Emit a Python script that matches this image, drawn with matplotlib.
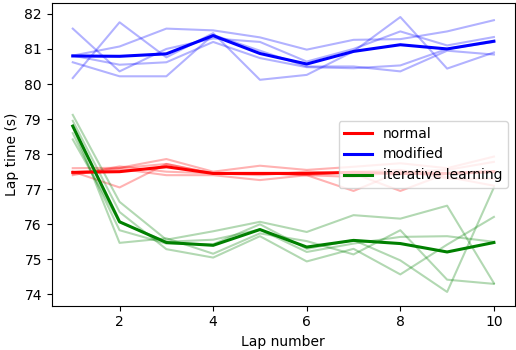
import matplotlib
matplotlib.use("Agg")
import matplotlib.pyplot as plt

laps = [1, 2, 3, 4, 5, 6, 7, 8, 9, 10]

normal_runs = [
    [77.60, 77.61, 77.86, 77.50, 77.67, 77.55, 77.64, 77.74, 77.60, 77.93],
    [77.50, 77.05, 77.72, 77.45, 77.46, 77.40, 76.95, 77.50, 77.55, 77.78],
    [77.48, 77.60, 77.72, 77.45, 77.40, 77.50, 77.45, 76.95, 77.45, 77.50],
    [77.43, 77.58, 77.40, 77.40, 77.26, 77.40, 77.50, 77.55, 77.30, 77.30],
    [77.40, 77.65, 77.50, 77.45, 77.46, 77.40, 77.35, 77.50, 77.35, 77.10],
]
normal_mean = [77.48, 77.50, 77.64, 77.45, 77.45, 77.45, 77.48, 77.45, 77.45, 77.50]

modified_runs = [
    [81.58, 80.36, 81.00, 81.30, 81.20, 80.64, 81.00, 81.50, 81.10, 81.34],
    [80.17, 81.76, 80.76, 81.45, 80.12, 80.26, 80.93, 81.91, 80.44, 80.90],
    [80.81, 81.07, 81.58, 81.53, 81.33, 80.98, 81.26, 81.28, 81.50, 81.82],
    [80.62, 80.22, 80.22, 81.40, 80.95, 80.50, 80.50, 80.36, 80.95, 80.84],
    [80.81, 80.55, 80.62, 81.20, 80.74, 80.48, 80.45, 80.53, 81.00, 81.20],
]
modified_mean = [80.80, 80.79, 80.86, 81.38, 80.87, 80.57, 80.93, 81.12, 81.00, 81.22]

iterative_runs = [
    [79.12, 76.64, 75.56, 75.80, 76.07, 75.78, 76.26, 76.16, 76.53, 74.32],
    [78.95, 76.35, 75.29, 75.05, 75.66, 74.94, 75.30, 74.57, 75.42, 76.21],
    [78.80, 75.47, 75.60, 75.16, 75.74, 75.52, 75.14, 75.83, 74.42, 74.30],
    [78.60, 75.83, 75.45, 75.43, 76.00, 75.30, 75.55, 74.97, 74.07, 77.05],
    [78.42, 76.06, 75.50, 75.56, 75.85, 75.21, 75.45, 75.64, 75.66, 75.50],
]
iterative_mean = [78.80, 76.07, 75.48, 75.40, 75.85, 75.35, 75.54, 75.45, 75.21, 75.48]

groups = [
    ("normal", "red", normal_runs, normal_mean),
    ("modified", "blue", modified_runs, modified_mean),
    ("iterative learning", "green", iterative_runs, iterative_mean),
]

fig = plt.figure(figsize=(5.16, 3.5), dpi=100)
ax = fig.add_axes([0.1002, 0.1266, 0.8978, 0.864])

for label, color, runs, mean in groups:
    for r in runs:
        ax.plot(laps, r, color=color, alpha=0.3, linewidth=1.5)
for label, color, runs, mean in groups:
    ax.plot(laps, mean, color=color, linewidth=2.2, label=label)

ax.set_xlabel("Lap number")
ax.set_ylabel("Lap time (s)")
ax.legend(loc="center right")

fig.savefig("out.png", dpi=100)
